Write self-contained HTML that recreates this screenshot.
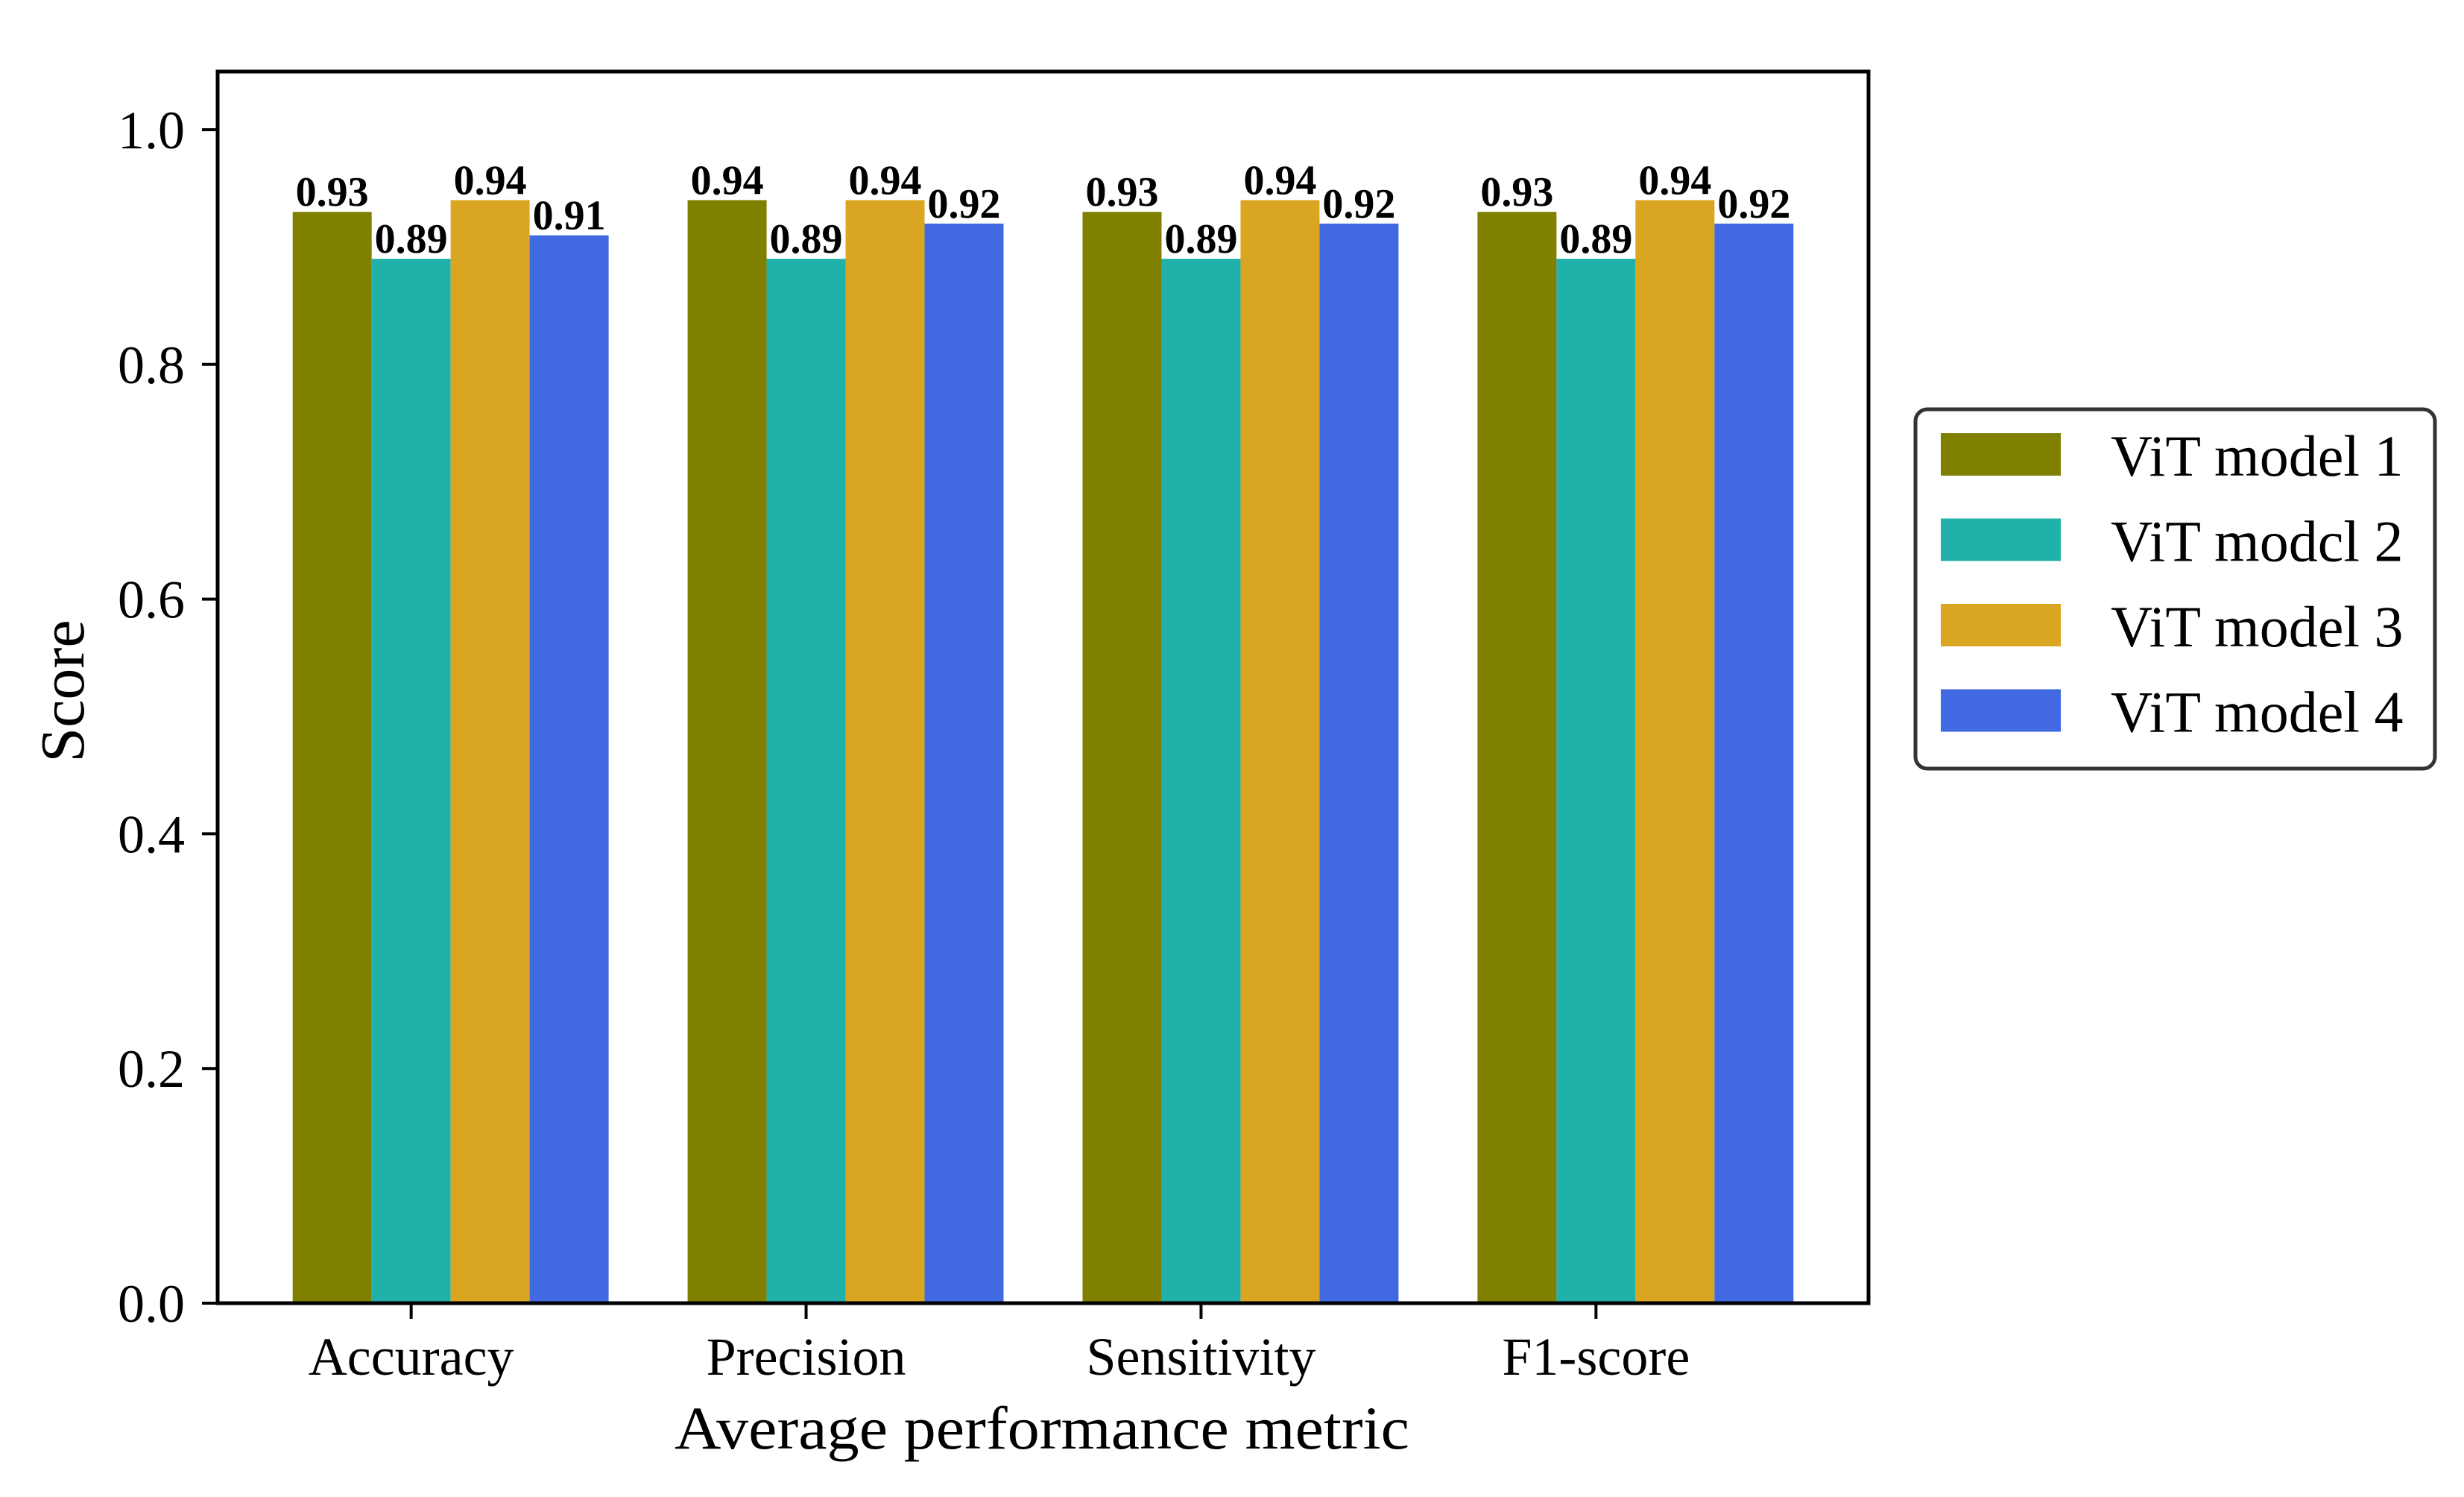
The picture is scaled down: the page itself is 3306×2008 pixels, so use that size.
<!DOCTYPE html>
<html><head><meta charset="utf-8"><style>
html,body{margin:0;padding:0;background:#fff;}
svg{display:block;font-family:"Liberation Serif",serif;}
</style></head><body>
<svg id="chart" width="3306" height="2008" viewBox="0 0 3306 2008" xmlns="http://www.w3.org/2000/svg">
<g id="bars"></g>
<g id="labels"></g>
<g id="axes"></g>
<text x="0" y="0" transform="translate(112,927) rotate(-90)" text-anchor="middle" font-size="84">Score</text>
<text x="1398" y="1943" text-anchor="middle" font-size="82" textLength="986" lengthAdjust="spacingAndGlyphs">Average performance metric</text>
<g>
<rect x="2570" y="549" width="697" height="482" rx="16" fill="#fff" stroke="#333" stroke-width="5"/>
<g id="legend-entries"></g>
</g>
</svg>
<script>
const categories = ["Accuracy","Precision","Sensitivity","F1-score"];
const seriesNames = ["ViT model 1","ViT modcl 2","ViT model 3","ViT model 4"];
const model1 = [0.93,0.94,0.93,0.93];
const model2 = [0.89,0.89,0.89,0.89];
const model3 = [0.94,0.94,0.94,0.94];
const model4 = [0.91,0.92,0.92,0.92];
const yTicks = [0.0,0.2,0.4,0.6,0.8,1.0];
const yTickLabels = ["0.0","0.2","0.4","0.6","0.8","1.0"];

const series=[model1,model2,model3,model4];
const colors=["#808000","#20b2aa","#daa520","#4169e1"];
const NS="http://www.w3.org/2000/svg";
const L=292,R=2507,T=96,B=1748;
const xmin=-0.59,xmax=3.59;
function xs(v){return L+(v-xmin)/(xmax-xmin)*(R-L);}
function ys(v){return B-(v/1.0)*(1748-174);}
const bw=0.2;
function mk(tag,attrs,parent){const e=document.createElementNS(NS,tag);for(const k in attrs)e.setAttribute(k,attrs[k]);parent.appendChild(e);return e;}
const gb=document.getElementById('bars'),gl=document.getElementById('labels'),ga=document.getElementById('axes');
series.forEach((s,si)=>{
  s.forEach((v,ci)=>{
    const c=ci+(si-1.5)*bw;
    const x0=xs(c-bw/2),x1=xs(c+bw/2);
    const r=mk('rect',{x:x0,y:ys(v),width:x1-x0,height:ys(0)-ys(v),fill:colors[si]},gb);
    
    
    const t=mk('text',{x:xs(c),y:ys(v)-8,'text-anchor':'middle','font-size':56,'font-weight':'bold'},gl);
    t.textContent=v.toFixed(2);
    
    
  });
});
const fr=mk('rect',{x:L,y:T,width:R-L,height:B-T,fill:'none',stroke:'#000','stroke-width':5},ga);


yTicks.forEach((v,i)=>{
  const y=ys(v);
  const tk=mk('line',{x1:L-21,x2:L,y1:y,y2:y,stroke:'#000','stroke-width':4},ga);
  
  
  const t=mk('text',{x:L-44,y:y+25,'text-anchor':'end','font-size':72},ga);
  t.textContent=yTickLabels[i];
  
  
});
categories.forEach((c,i)=>{
  const x=xs(i-0.1);
  const tk=mk('line',{x1:x,x2:x,y1:B,y2:B+21,stroke:'#000','stroke-width':4},ga);
  
  
  const t=mk('text',{x:x,y:1844,'text-anchor':'middle','font-size':72},ga);
  t.textContent=c;
  
  
});
const le=document.getElementById('legend-entries');
seriesNames.forEach((n,i)=>{
  const y0=581+i*114.5;
  const p=mk('rect',{x:2604,y:y0,width:161,height:57,fill:colors[i]},le);
  
  
  const t=mk('text',{x:2832,y:y0+57,'font-size':78},le);
  t.textContent=n;
  
  
});
</script>
</body></html>
